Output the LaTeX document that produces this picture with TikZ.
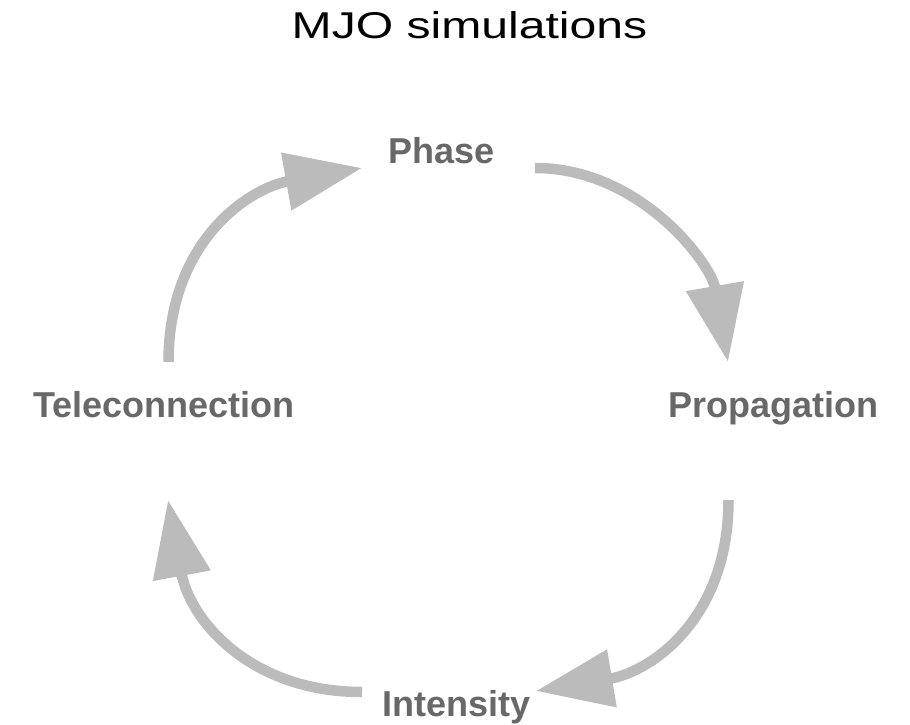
\documentclass[tikz,border=0pt]{standalone}
\usepackage{fontspec}
\setmainfont{Liberation Sans}
\usetikzlibrary{arrows.meta}
\definecolor{arrowgrey}{HTML}{BBBBBB}
\definecolor{labelgrey}{HTML}{686868}
\tikzset{
  cyclearrow/.style={draw=arrowgrey, line width=10.5pt,
    -{Triangle[length=77pt, width=56pt]}},
  stage/.style={anchor=base, inner sep=0pt, text=labelgrey,
    font=\fontsize{36}{40}\selectfont\bfseries},
  heading/.style={anchor=base, inner sep=0pt, text=black,
    font=\fontsize{37.3}{42}\selectfont}
}
\begin{document}
\begin{tikzpicture}[x=1pt, y=-1pt]
  \useasboundingbox[fill=white] (0,0) rectangle (910,725);

  % title
  \node[heading] (title) at (469.5,38.3) {\scalebox{1.29}[1]{MJO simulations}};

  % the four stages of the cycle
  \node[stage] (phase) at (441.7,163) {Phase};
  \node[stage] (prop)  at (773.3,417.7) {Propagation};
  \node[stage] (inten) at (456.8,716.7) {Intensity};
  \node[stage] (tele)  at (163.7,417.3) {Teleconnection};

  % end points of the curved arrows
  \coordinate (teleOut)  at (168.5,362);
  \coordinate (phaseIn)  at (362,168);
  \coordinate (phaseOut) at (535,168);
  \coordinate (propIn)   at (728,362);
  \coordinate (propOut)  at (728.5,500);
  \coordinate (intenIn)  at (536,691);
  \coordinate (intenOut) at (362,692);
  \coordinate (teleIn)   at (168,500);

  % clockwise cycle
  \draw[cyclearrow] (teleOut)  .. controls (168.5,240) and (250,188) .. (phaseIn);
  \draw[cyclearrow] (phaseOut) .. controls (640,168) and (711,263.5) .. (propIn);
  \draw[cyclearrow] (propOut)  .. controls (728.5,620) and (650,672) .. (intenIn);
  \draw[cyclearrow] (intenOut) .. controls (250,692) and (190,620) .. (teleIn);
\end{tikzpicture}
\end{document}
